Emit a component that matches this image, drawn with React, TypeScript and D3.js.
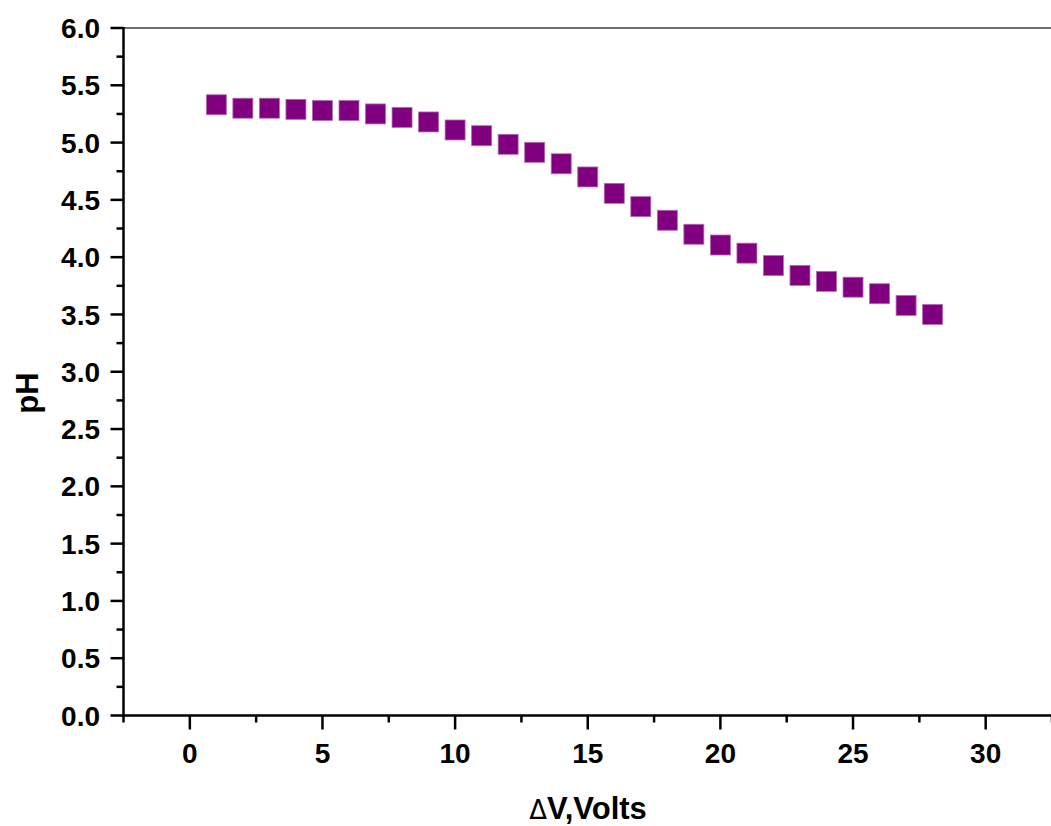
import React from "react";
import * as d3 from "d3";

// Applied potential difference (V) and measured pH
const voltage = [1, 2, 3, 4, 5, 6, 7, 8, 9, 10, 11, 12, 13, 14, 15, 16, 17, 18, 19, 20, 21, 22, 23, 24, 25, 26, 27, 28];
const pH = [5.33, 5.30, 5.30, 5.29, 5.28, 5.28, 5.25, 5.22, 5.18, 5.11, 5.06, 4.985, 4.915, 4.815, 4.70, 4.557, 4.441, 4.322, 4.20, 4.106, 4.035, 3.927, 3.841, 3.789, 3.738, 3.681, 3.579, 3.50];

const xMajorTicks = [0, 5, 10, 15, 20, 25, 30];
const xMinorTicks = [-2.5, 2.5, 7.5, 12.5, 17.5, 22.5, 27.5, 32.5];
const yMajorTicks = [0, 0.5, 1, 1.5, 2, 2.5, 3, 3.5, 4, 4.5, 5, 5.5, 6];
const yMinorTicks = [0.25, 0.75, 1.25, 1.75, 2.25, 2.75, 3.25, 3.75, 4.25, 4.75, 5.25, 5.75];

const W = 1051;
const H = 826;
const left = 123.5;
const right = 1052;
const top = 28;
const bottom = 715.5;

const FONT = "Arial, 'Liberation Sans', sans-serif";

export default function App() {
  const x = d3.scaleLinear().domain([-2.5, 32.5]).range([left, right]);
  const y = d3.scaleLinear().domain([0, 6]).range([bottom, top]);
  const size = 20;
  const points = d3.zip(voltage, pH);

  return (
    <svg
      width={W}
      height={H}
      style={{ position: "absolute", left: 0, top: 0, background: "#fff" }}
      fontFamily={FONT}
    >
      {/* top frame */}
      <line x1={left} x2={right} y1={top} y2={top} stroke="#6e6e6e" strokeWidth={2.2} />

      {/* markers */}
      {points.map(([v, p], i) => (
        <rect
          key={i}
          x={x(v) - size / 2}
          y={y(p) - size / 2}
          width={size}
          height={size}
          fill="#800080"
          stroke="#b46cb4"
          strokeWidth={0.8}
        />
      ))}

      {/* y axis */}
      <line x1={left} x2={left} y1={top - 1} y2={bottom + 1} stroke="#000" strokeWidth={2.5} />
      {yMajorTicks.map((t) => (
        <g key={"ym" + t}>
          <line x1={left - 13} x2={left} y1={y(t)} y2={y(t)} stroke="#000" strokeWidth={2.5} />
          <text
            x={100}
            y={y(t)}
            dy="0.36em"
            textAnchor="end"
            fontSize={28}
            fontWeight="bold"
            fill="#000"
          >
            {d3.format(".1f")(t)}
          </text>
        </g>
      ))}
      {yMinorTicks.map((t) => (
        <line key={"yn" + t} x1={left - 7} x2={left} y1={y(t)} y2={y(t)} stroke="#000" strokeWidth={2.5} />
      ))}

      {/* x axis */}
      <line x1={left - 1} x2={right} y1={bottom} y2={bottom} stroke="#000" strokeWidth={2.5} />
      {xMajorTicks.map((t) => (
        <g key={"xm" + t}>
          <line x1={x(t)} x2={x(t)} y1={bottom} y2={bottom + 14} stroke="#000" strokeWidth={2.5} />
          <text x={x(t)} y={763} textAnchor="middle" fontSize={28} fontWeight="bold" fill="#000">
            {t}
          </text>
        </g>
      ))}
      {xMinorTicks.map((t) => (
        <line key={"xn" + t} x1={x(t)} x2={x(t)} y1={bottom} y2={bottom + 7} stroke="#000" strokeWidth={2.5} />
      ))}

      {/* axis titles */}
      <text x={588} y={819} textAnchor="middle" fontSize={31} fontWeight="bold" fill="#000">
        <tspan fontWeight="normal" fontSize={26} fontFamily="'DejaVu Sans', sans-serif">Δ</tspan>V,Volts
      </text>
      <text
        transform={`translate(${38},${393}) rotate(-90)`}
        textAnchor="middle"
        fontSize={31}
        fontWeight="bold"
        fill="#000"
      >
        pH
      </text>
    </svg>
  );
}
